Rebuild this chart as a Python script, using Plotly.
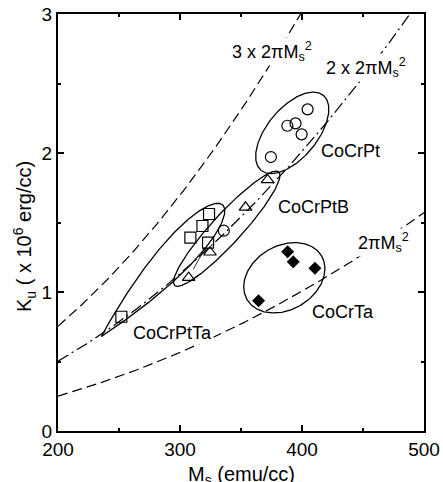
import numpy as np
import plotly.graph_objects as go

# --- measured samples (Ms in emu/cc, Ku in 10^6 erg/cc) ---
cocrpt_ms = [404.6, 388.0, 394.7, 399.7, 374.5, 335.9]
cocrpt_ku = [2.314, 2.196, 2.213, 2.134, 1.971, 1.441]

cocrptb_ms = [371.8, 353.7, 324.6, 307.1]
cocrptb_ku = [1.806, 1.609, 1.286, 1.103]

cocrptta_ms = [323.8, 318.4, 308.5, 323.0, 251.9]
cocrptta_ku = [1.561, 1.475, 1.391, 1.355, 0.822]

cocrta_ms = [388.2, 392.8, 410.6, 364.4]
cocrta_ku = [1.290, 1.218, 1.170, 0.937]

# multiples n of the shape anisotropy 2*pi*Ms^2
demag_factors = [1, 2, 3]

X_RANGE = [200, 500]
Y_RANGE = [0, 3]
W, H = 443, 482
M = dict(l=58, r=19, t=14, b=51)
PW = W - M["l"] - M["r"]
PH = H - M["t"] - M["b"]
SX = PW / (X_RANGE[1] - X_RANGE[0])   # px per emu/cc
SY = PH / (Y_RANGE[1] - Y_RANGE[0])   # px per 10^6 erg/cc

FONT = "Liberation Sans, Arial, Helvetica, sans-serif"
INK = "black"


def outline(tip0, tip1, half_w, egg=0.0, n=240):
    """Closed loop between two tips (data coords), half width in px.
    egg > 0 makes the loop pointed at tip0 and rounded at tip1."""
    p0 = np.array([tip0[0] * SX, tip0[1] * SY])
    p1 = np.array([tip1[0] * SX, tip1[1] * SY])
    c = (p0 + p1) / 2
    d = p1 - p0
    a = np.linalg.norm(d) / 2
    d = d / np.linalg.norm(d)
    nrm = np.array([-d[1], d[0]])
    t = np.linspace(0, 2 * np.pi, n)
    u = np.cos(t)
    g = (1 + u) ** egg
    uu = np.linspace(-1, 1, 2001)
    norm = np.max(np.sqrt(1 - uu ** 2) * (1 + uu) ** egg)
    pts = c[:, None] + a * u * d[:, None] + half_w * np.sin(t) * g / norm * nrm[:, None]
    return pts[0] / SX, pts[1] / SY


fig = go.Figure()

# anisotropy reference curves
ms = np.linspace(X_RANGE[0], X_RANGE[1], 400)
dash_for = {1: "10px,5px", 2: "12px,4px,2px,4px", 3: "10px,5px"}
for n_f in demag_factors:
    fig.add_trace(go.Scatter(
        x=ms, y=n_f * 2 * np.pi * ms ** 2 / 1e6, mode="lines",
        line=dict(color=INK, width=1.2, dash=dash_for[n_f]),
        hoverinfo="skip", showlegend=False))

# group outlines
loops = [
    ((366.5, 1.875), (417.5, 2.415), 25, 0.0),   # CoCrPt
    ((355.0, 0.945), (416.0, 1.260), 32, 0.0),   # CoCrTa
    ((295.6, 1.047), (381.0, 1.863), 15, 0.0),   # CoCrPtB
    ((235.5, 0.680), (335.0, 1.626), 17, 0.5),   # CoCrPtTa
]
for t0, t1, hw, egg in loops:
    lx, ly = outline(t0, t1, hw, egg)
    fig.add_trace(go.Scatter(x=lx, y=ly, mode="lines",
                             line=dict(color=INK, width=1.3),
                             hoverinfo="skip", showlegend=False))

# sample markers
open_line = dict(color=INK, width=1.2)
fig.add_trace(go.Scatter(x=cocrpt_ms, y=cocrpt_ku, mode="markers", name="CoCrPt",
                         marker=dict(symbol="circle-open", size=11, color=INK, line=open_line)))
fig.add_trace(go.Scatter(x=cocrptb_ms, y=cocrptb_ku, mode="markers", name="CoCrPtB",
                         marker=dict(symbol="triangle-up-open", size=11, color=INK, line=open_line)))
fig.add_trace(go.Scatter(x=cocrptta_ms, y=cocrptta_ku, mode="markers", name="CoCrPtTa",
                         marker=dict(symbol="square-open", size=11, color=INK, line=open_line)))
fig.add_trace(go.Scatter(x=cocrta_ms, y=cocrta_ku, mode="markers", name="CoCrTa",
                         marker=dict(symbol="diamond", size=10, color=INK, line=dict(width=0))))

lab = dict(size=18, color=INK, family=FONT)
labels = [
    (375.2, 2.727, "3 x 2πM<sub>s</sub><sup>2</sup>"),
    (452.4, 2.612, "2 x 2πM<sub>s</sub><sup>2</sup>"),
    (466.4, 1.353, "2πM<sub>s</sub><sup>2</sup>"),
    (440.1, 2.014, "CoCrPt"),
    (409.7, 1.612, "CoCrPtB"),
    (433.5, 0.856, "CoCrTa"),
    (294.0, 0.705, "CoCrPtTa"),
]
for x, y, s in labels:
    fig.add_annotation(x=x, y=y, text=s, showarrow=False, font=lab,
                       xanchor="center", yanchor="middle",
                       bgcolor="white", borderpad=1)

# small arrow from a CoCrPtB sample to a CoCrPtTa sample
fig.add_annotation(x=cocrptta_ms[3], y=cocrptta_ku[3], ax=cocrptb_ms[3], ay=cocrptb_ku[3],
                   axref="x", ayref="y", xref="x", yref="y", text="",
                   showarrow=True, arrowhead=2, arrowsize=0.9, arrowwidth=0.8,
                   arrowcolor=INK, standoff=5, startstandoff=8)

# axis titles
fig.add_annotation(xref="paper", yref="paper", x=0.5, y=-44 / PH,
                   text="M<sub>s</sub> (emu/cc)", showarrow=False,
                   font=dict(size=20, color=INK, family=FONT),
                   xanchor="center", yanchor="middle")
fig.add_annotation(xref="paper", yref="paper", x=-34 / PW, y=(431 - 237) / PH,
                   text="K<sub>u</sub> ( x 10<sup>6</sup> erg/cc)", showarrow=False,
                   textangle=-90, font=dict(size=20, color=INK, family=FONT),
                   xanchor="center", yanchor="middle")

axis_common = dict(showline=True, linecolor=INK, linewidth=2, mirror="allticks",
                   ticks="inside", ticklen=6, tickwidth=1.5, tickcolor=INK,
                   showgrid=False, zeroline=False, automargin=False,
                   tickfont=dict(size=19, color=INK, family=FONT))
fig.update_xaxes(range=X_RANGE, dtick=100, tick0=200,
                 minor=dict(dtick=50, ticks="inside", ticklen=3, tickcolor=INK, tickwidth=1.5,
                            showgrid=False),
                 **axis_common)
fig.update_yaxes(range=Y_RANGE, dtick=1, tick0=0,
                 minor=dict(dtick=0.5, ticks="inside", ticklen=3, tickcolor=INK, tickwidth=1.5,
                            showgrid=False),
                 **axis_common)

fig.update_layout(width=W, height=H, margin=M, autosize=False,
                  paper_bgcolor="white", plot_bgcolor="white",
                  showlegend=False, font=dict(family=FONT, color=INK))

fig.write_html("out.html")
